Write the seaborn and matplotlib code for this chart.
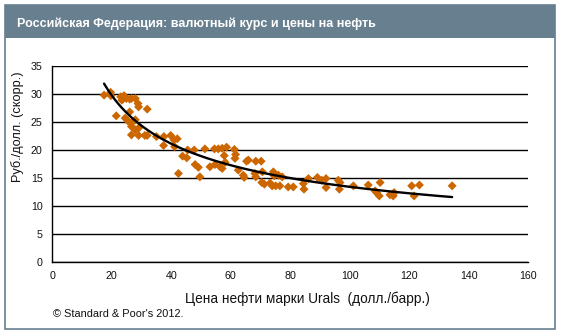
import numpy as np
import pandas as pd
import matplotlib
matplotlib.use("Agg")
import matplotlib.pyplot as plt
import seaborn as sns
from matplotlib.patches import Rectangle

# Urals oil price (USD/bbl)
oil_price = [
    17.4, 19.6, 19.7, 23.0, 24.1, 23.4, 24.9, 26.0, 26.6, 27.9, 28.8, 29.0, 31.9,
    21.5, 26.0, 24.5, 25.4, 26.6, 27.9, 26.6, 27.9, 29.0, 26.6, 29.0, 31.1, 31.9,
    35.0, 37.5, 39.8, 42.0, 40.9, 37.4, 41.1, 42.4, 43.8, 45.2,
    45.5, 47.7, 48.0, 49.1, 49.6, 51.3, 54.5, 55.8, 57.1, 58.6, 61.2, 61.6, 61.4,
    57.8, 58.1, 53.0, 54.7, 56.4, 57.1, 65.3, 65.9, 68.4, 70.2, 62.5, 64.2, 64.5,
    68.1, 68.4, 70.6, 70.4, 71.3, 73.2, 74.3, 74.6, 73.9, 75.1, 76.5, 76.0, 77.3,
    79.3, 81.0, 84.4, 84.6, 86.1, 89.1, 90.6, 92.0, 92.0,
    96.1, 96.7, 96.5, 101.2, 106.2, 108.5, 109.0, 109.9, 110.2, 113.5, 114.6,
    114.9, 120.8, 123.4, 121.6, 134.4,
]
# RUB/USD (adjusted)
rub_usd = [
    29.8, 30.3, 29.7, 29.5, 29.7, 28.9, 29.2, 29.1, 29.2, 29.2, 28.3, 27.7, 27.3,
    26.1, 26.8, 25.7, 25.2, 24.8, 25.4, 24.2, 23.6, 23.9, 22.7, 22.6, 22.6, 22.6,
    22.4, 22.4, 22.6, 22.0, 21.8, 20.8, 20.6, 15.8, 18.9, 18.6,
    20.0, 20.0, 17.4, 16.9, 15.2, 20.2, 20.2, 20.2, 20.3, 20.5, 20.1, 19.2, 18.5,
    19.0, 17.8, 17.0, 17.4, 17.0, 16.7, 18.0, 18.2, 18.0, 18.0, 16.4, 15.5, 15.1,
    15.8, 15.2, 16.1, 14.2, 13.9, 14.1, 16.1, 15.4, 13.6, 13.6, 13.6, 15.5, 15.2,
    13.4, 13.4, 14.0, 13.0, 14.9, 15.1, 14.6, 14.9, 13.3,
    14.6, 14.2, 13.0, 13.6, 13.75, 12.7, 12.4, 11.8, 14.2, 12.0, 11.8,
    12.4, 13.6, 13.75, 11.8, 13.6,
]
x_ticks = [0, 20, 40, 60, 80, 100, 120, 140, 160]
y_ticks = [0, 5, 10, 15, 20, 25, 30, 35]

title = "Российская Федерация: валютный курс и цены на нефть"
x_label = "Цена нефти марки Urals  (долл./барр.)"
y_label = "Руб./долл. (скорр.)"
source = "© Standard & Poor's 2012."

sns.set_style("white")
plt.rcParams['font.family'] = ['Liberation Sans', 'DejaVu Sans']

W, H = 561, 335
fig = plt.figure(figsize=(W / 100, H / 100), dpi=100)
fig.patch.set_facecolor("white")

def fx(px):
    return px / W

def fy(py):
    return 1 - py / H

frame_col = "#687F8F"
# title bar
fig.patches.append(Rectangle((fx(5), fy(37.5)), fx(555) - fx(5), fy(5) - fy(37.5),
                             transform=fig.transFigure, facecolor=frame_col,
                             edgecolor="none", zorder=0))
# outer frame
fig.patches.append(Rectangle((fx(5), fy(329.3)), fx(555) - fx(5), fy(5) - fy(329.3),
                             transform=fig.transFigure, facecolor="none",
                             edgecolor=frame_col, lw=1.2, zorder=0))
fig.text(fx(17.3), fy(27.2), title, color="white", fontsize=9, fontweight="bold",
         va="baseline", ha="left")

ax = fig.add_axes([fx(52.3), fy(262), fx(528.3) - fx(52.3), fy(66) - fy(262)])
ax.set_facecolor("none")
df = pd.DataFrame({"oil": oil_price, "rub": rub_usd})
sns.scatterplot(data=df, x="oil", y="rub", marker="D", s=21, color="#CC6600",
                edgecolor="none", linewidth=0, ax=ax, zorder=3)

# power trend line (least squares in log-log space, like Excel)
b, ln_a = np.polyfit(np.log(df["oil"]), np.log(df["rub"]), 1)
xs = np.linspace(df["oil"].min(), df["oil"].max(), 200)
ax.plot(xs, np.exp(ln_a) * xs ** b, color="black", lw=1.7, zorder=4)

ax.set_xlim(0, 160)
ax.set_ylim(0, 35)
ax.set_xticks(x_ticks)
ax.set_yticks(y_ticks)
ax.yaxis.grid(True, color="black", lw=1)
ax.xaxis.grid(False)
ax.set_axisbelow(True)
for s in ["top", "right"]:
    ax.spines[s].set_visible(False)
for s in ["left", "bottom"]:
    ax.spines[s].set_color("black")
    ax.spines[s].set_linewidth(1)
ax.tick_params(axis="both", direction="out", length=2.5, width=1, color="black",
               labelsize=7.7, labelcolor="#111111")
ax.tick_params(axis="x", pad=4)
ax.tick_params(axis="y", pad=4.5)
ax.set_xlabel("")
ax.set_ylabel("")

fig.text(fx(307), fy(299), x_label, fontsize=9.8, ha="center", va="center", color="#111111")
fig.text(fx(18), fy(127), y_label, fontsize=9.2, ha="center", va="center",
         rotation=90, color="#111111")
fig.text(fx(53.3), fy(316.7), source, fontsize=7.9, ha="left", va="baseline", color="#111111")

fig.savefig("out.png", dpi=100, facecolor="white")
